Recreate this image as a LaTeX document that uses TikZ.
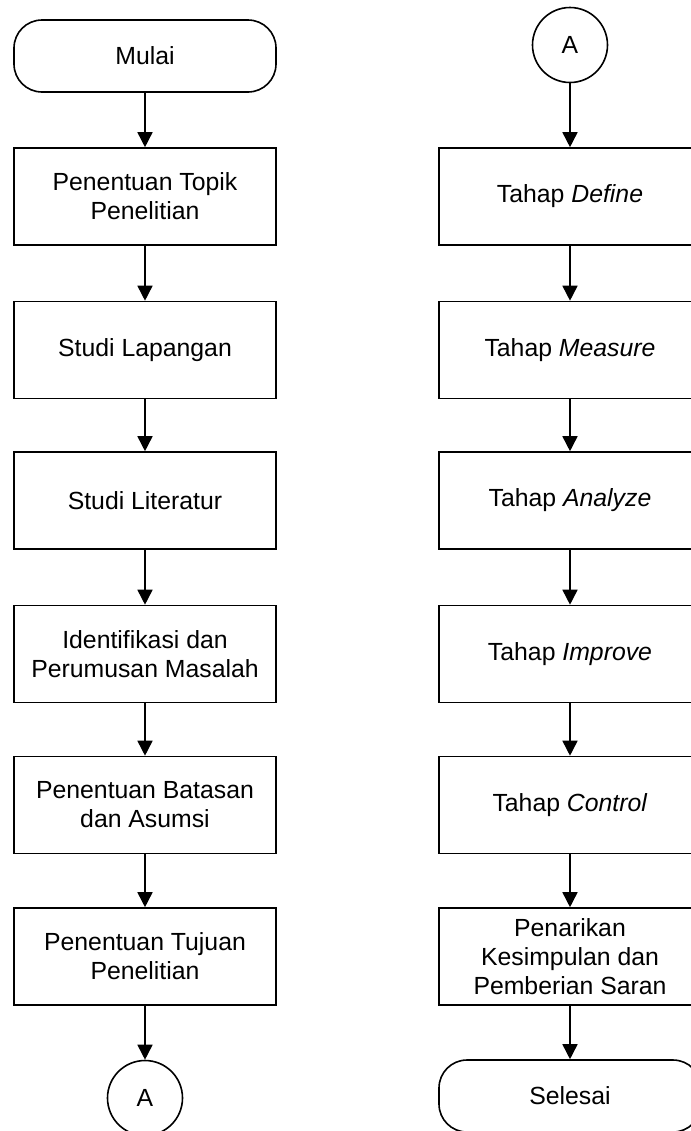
\documentclass[tikz,border=0pt]{standalone}
\usepackage{fontspec}
\setmainfont{Liberation Sans}
\usetikzlibrary{arrows.meta}

\tikzstyle{obj}=[black, line width=0.8pt]
\tikzstyle{procbox}=[obj, draw, rectangle, minimum width=131pt, minimum height=48.5pt, align=center, inner sep=2pt]
\tikzstyle{termbox}=[obj, draw, rectangle, rounded corners=14pt, minimum width=131pt, minimum height=36pt]
\tikzstyle{connector}=[obj, draw, circle, minimum size=37.5pt, inner sep=0pt]
\tikzstyle{flow}=[obj, -{Triangle[length=7.5pt, width=7.5pt]}]

\begin{document}
\begin{tikzpicture}[
	x=0.5pt, y=-0.5pt,
	font=\fontsize{12.4}{14.5}\selectfont
	]
	
	\def\xl{145}  % left column
	\def\xr{570}  % right column
	
	% page of the reference, the right column and the bottom row are cut off
	\useasboundingbox (0,0) rectangle (691,1131);
	\clip (0,0) rectangle (691,1131);
	
	% Left column
	\node[termbox] (mulai) at (\xl,56) {Mulai};
	\node[procbox] (topik) at (\xl,196.5) {Penentuan Topik\\Penelitian};
	\node[procbox] (lapangan) at (\xl,350) {Studi Lapangan};
	\node[procbox] (literatur) at (\xl,500.5) {Studi Literatur};
	\node[procbox] (masalah) at (\xl,654) {Identifikasi dan\\Perumusan Masalah};
	\node[procbox] (batasan) at (\xl,805) {Penentuan Batasan\\dan Asumsi};
	\node[procbox] (tujuan) at (\xl,956.5) {Penentuan Tujuan\\Penelitian};
	\node[connector] (ka) at (\xl,1098) {A};
	
	% Right column
	\node[connector] (kb) at (\xr,45) {A};
	\node[procbox] (define) at (\xr,196.5) {Tahap \textit{Define}};
	\node[procbox] (measure) at (\xr,350) {Tahap \textit{Measure}};
	\node[procbox] (analyze) at (\xr,500.5) {Tahap \textit{Analyze}};
	\node[procbox] (improve) at (\xr,654) {Tahap \textit{Improve}};
	\node[procbox] (control) at (\xr,805) {Tahap \textit{Control}};
	\node[procbox] (saran) at (\xr,956.5) {Penarikan\\Kesimpulan dan\\Pemberian Saran};
	\node[termbox] (selesai) at (\xr,1096) {Selesai};
	
	% Arrows
	\foreach \p/\q in {mulai/topik, topik/lapangan, lapangan/literatur, literatur/masalah, masalah/batasan, batasan/tujuan, tujuan/ka, kb/define, define/measure, measure/analyze, analyze/improve, improve/control, control/saran, saran/selesai} {
		\draw[flow] (\p) -- (\q);
	}
	
\end{tikzpicture}
\end{document}
